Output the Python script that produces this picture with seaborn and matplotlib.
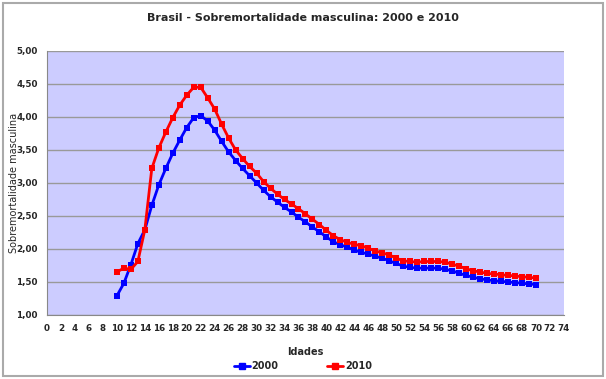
import numpy as np
import pandas as pd
import seaborn as sns
import matplotlib.pyplot as plt
from matplotlib.ticker import FuncFormatter

# idades 10 a 70
idades = list(range(10, 71))

sobre_2000 = [
    1.29, 1.48, 1.76, 2.08, 2.29, 2.66, 2.97, 3.22, 3.45, 3.65,
    3.84, 3.99, 4.02, 3.94, 3.80, 3.63, 3.47, 3.34, 3.22, 3.11,
    3.00, 2.89, 2.79, 2.71, 2.63, 2.56, 2.48, 2.41, 2.33, 2.26,
    2.18, 2.11, 2.06, 2.03, 1.98, 1.95, 1.92, 1.89, 1.86, 1.82,
    1.78, 1.74, 1.72, 1.71, 1.71, 1.71, 1.71, 1.69, 1.67, 1.63,
    1.60, 1.57, 1.55, 1.53, 1.52, 1.51, 1.50, 1.49, 1.48, 1.47,
    1.46,
]

sobre_2010 = [
    1.65, 1.71, 1.69, 1.81, 2.29, 3.22, 3.53, 3.77, 3.99, 4.18,
    4.33, 4.45, 4.45, 4.29, 4.12, 3.89, 3.68, 3.50, 3.37, 3.25,
    3.15, 3.02, 2.92, 2.83, 2.75, 2.68, 2.61, 2.53, 2.45, 2.37,
    2.28, 2.20, 2.14, 2.10, 2.07, 2.05, 2.01, 1.97, 1.94, 1.91,
    1.86, 1.82, 1.81, 1.80, 1.81, 1.81, 1.81, 1.80, 1.77, 1.74,
    1.70, 1.67, 1.65, 1.63, 1.62, 1.61, 1.60, 1.59, 1.58, 1.57,
    1.56,
]

anos = ['2000', '2010']
cores = ['#0000FF', '#FF0000']

df = pd.DataFrame({
    'Idades': idades * 2,
    'Sobremortalidade masculina': sobre_2000 + sobre_2010,
    'Ano': [anos[0]] * len(idades) + [anos[1]] * len(idades),
})

sns.set_style('white', {'axes.facecolor': '#CCCCFF'})
plt.rcParams['font.family'] = ['DejaVu Sans']

fig = plt.figure(figsize=(6.06, 3.79), dpi=100)
ax = fig.add_axes([0.0776, 0.169, 0.853, 0.6965])

sns.lineplot(data=df, x='Idades', y='Sobremortalidade masculina', hue='Ano',
    palette=cores, marker='s', markersize=4, markeredgewidth=0,
    linewidth=2, ax=ax, legend=False)

ax.set_xlim(0, 74)
ax.set_ylim(1, 5)
ax.set_xticks(np.arange(0, 75, 2))
ax.set_yticks(np.arange(1, 5.01, 0.5))
ax.yaxis.set_major_formatter(FuncFormatter(lambda v, p: f'{v:.2f}'.replace('.', ',')))
ax.tick_params(axis='both', labelsize=6.3, length=3, color='#888888', direction='out')
for lab in ax.get_xticklabels() + ax.get_yticklabels():
    lab.set_fontweight('bold')
ax.yaxis.grid(True, color='#999999', linewidth=1)
ax.set_axisbelow(True)

for s in ['top', 'right']:
    ax.spines[s].set_visible(False)
for s in ['left', 'bottom']:
    ax.spines[s].set_color('#888888')

ax.set_xlabel('Idades', fontsize=7, fontweight='bold')
ax.xaxis.set_label_coords(0.5, -0.12)
ax.set_ylabel('Sobremortalidade masculina', fontsize=7)
ax.yaxis.set_label_coords(-0.055, 0.5)

fig.text(0.5, 0.952, 'Brasil - Sobremortalidade masculina: 2000 e 2010',
    ha='center', va='center', fontsize=8, fontweight='bold')

handles = [plt.Line2D([], [], color=c, marker='s', markersize=4, lw=2,
    label=a) for a, c in zip(anos, cores)]
fig.legend(handles=handles, loc='center', bbox_to_anchor=(0.5, 0.034),
    ncol=2, frameon=False, handlelength=1.6, handletextpad=0.2,
    columnspacing=5, prop={'weight': 'bold', 'size': 7})

# borda externa do grafico
fig.patches.append(plt.Rectangle((0.005, 0.008), 0.99, 0.985,
    transform=fig.transFigure, fill=False, edgecolor='#AAAAAA', linewidth=1.5))

plt.savefig('out.png', dpi=100)
plt.close()
